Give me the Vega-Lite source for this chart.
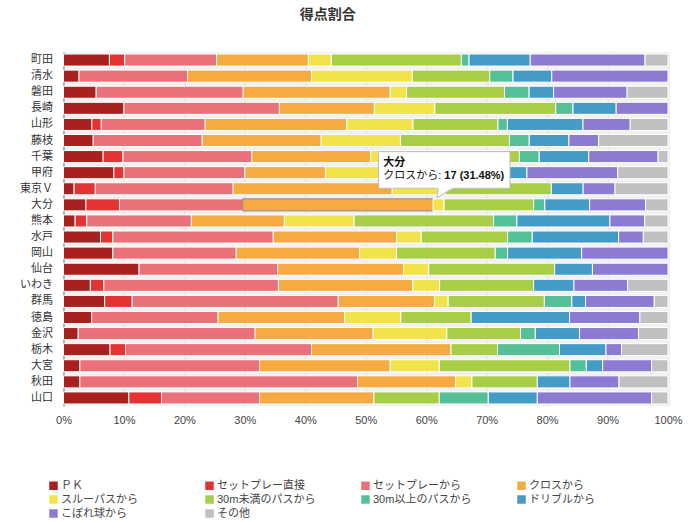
{
  "$schema": "https://vega.github.io/schema/vega-lite/v6.json",
  "width": 604.5,
  "height": 354,
  "autosize": {"type": "none"},
  "padding": {"left": 63.5, "top": 52, "right": 32, "bottom": 116},
  "title": {"text": "得点割合", "fontSize": 14, "fontWeight": "bold", "color": "#333", "anchor": "middle", "frame": "group", "dx": -38, "offset": 30},
  "config": {
    "font": "Liberation Sans, Noto Sans CJK JP",
    "view": {"fill": "#f1f1f1", "stroke": null}
  },
  "datasets": {
    "categories": [
      {"category": "ＰＫ", "rank": 1},
      {"category": "セットプレー直接", "rank": 2},
      {"category": "セットプレーから", "rank": 3},
      {"category": "クロスから", "rank": 4},
      {"category": "スルーパスから", "rank": 5},
      {"category": "30m未満のパスから", "rank": 6},
      {"category": "30m以上のパスから", "rank": 7},
      {"category": "ドリブルから", "rank": 8},
      {"category": "こぼれ球から", "rank": 9},
      {"category": "その他", "rank": 10}
    ],
    "goals": [
      {"team": "町田", "category": "ＰＫ", "goals": 6},
      {"team": "町田", "category": "セットプレー直接", "goals": 2},
      {"team": "町田", "category": "セットプレーから", "goals": 12},
      {"team": "町田", "category": "クロスから", "goals": 12},
      {"team": "町田", "category": "スルーパスから", "goals": 3},
      {"team": "町田", "category": "30m未満のパスから", "goals": 17},
      {"team": "町田", "category": "30m以上のパスから", "goals": 1},
      {"team": "町田", "category": "ドリブルから", "goals": 8},
      {"team": "町田", "category": "こぼれ球から", "goals": 15},
      {"team": "町田", "category": "その他", "goals": 3},
      {"team": "清水", "category": "ＰＫ", "goals": 2},
      {"team": "清水", "category": "セットプレーから", "goals": 14},
      {"team": "清水", "category": "クロスから", "goals": 16},
      {"team": "清水", "category": "スルーパスから", "goals": 13},
      {"team": "清水", "category": "30m未満のパスから", "goals": 10},
      {"team": "清水", "category": "30m以上のパスから", "goals": 3},
      {"team": "清水", "category": "ドリブルから", "goals": 5},
      {"team": "清水", "category": "こぼれ球から", "goals": 15},
      {"team": "磐田", "category": "ＰＫ", "goals": 4},
      {"team": "磐田", "category": "セットプレーから", "goals": 18},
      {"team": "磐田", "category": "クロスから", "goals": 18},
      {"team": "磐田", "category": "スルーパスから", "goals": 2},
      {"team": "磐田", "category": "30m未満のパスから", "goals": 12},
      {"team": "磐田", "category": "30m以上のパスから", "goals": 3},
      {"team": "磐田", "category": "ドリブルから", "goals": 3},
      {"team": "磐田", "category": "こぼれ球から", "goals": 9},
      {"team": "磐田", "category": "その他", "goals": 5},
      {"team": "長崎", "category": "ＰＫ", "goals": 7},
      {"team": "長崎", "category": "セットプレーから", "goals": 18},
      {"team": "長崎", "category": "クロスから", "goals": 11},
      {"team": "長崎", "category": "スルーパスから", "goals": 7},
      {"team": "長崎", "category": "30m未満のパスから", "goals": 14},
      {"team": "長崎", "category": "30m以上のパスから", "goals": 2},
      {"team": "長崎", "category": "ドリブルから", "goals": 5},
      {"team": "長崎", "category": "こぼれ球から", "goals": 6},
      {"team": "山形", "category": "ＰＫ", "goals": 3},
      {"team": "山形", "category": "セットプレー直接", "goals": 1},
      {"team": "山形", "category": "セットプレーから", "goals": 11},
      {"team": "山形", "category": "クロスから", "goals": 15},
      {"team": "山形", "category": "スルーパスから", "goals": 7},
      {"team": "山形", "category": "30m未満のパスから", "goals": 9},
      {"team": "山形", "category": "30m以上のパスから", "goals": 1},
      {"team": "山形", "category": "ドリブルから", "goals": 8},
      {"team": "山形", "category": "こぼれ球から", "goals": 5},
      {"team": "山形", "category": "その他", "goals": 4},
      {"team": "藤枝", "category": "ＰＫ", "goals": 3},
      {"team": "藤枝", "category": "セットプレーから", "goals": 11},
      {"team": "藤枝", "category": "クロスから", "goals": 12},
      {"team": "藤枝", "category": "スルーパスから", "goals": 8},
      {"team": "藤枝", "category": "30m未満のパスから", "goals": 11},
      {"team": "藤枝", "category": "30m以上のパスから", "goals": 2},
      {"team": "藤枝", "category": "ドリブルから", "goals": 4},
      {"team": "藤枝", "category": "こぼれ球から", "goals": 3},
      {"team": "藤枝", "category": "その他", "goals": 7},
      {"team": "千葉", "category": "ＰＫ", "goals": 4},
      {"team": "千葉", "category": "セットプレー直接", "goals": 2},
      {"team": "千葉", "category": "セットプレーから", "goals": 13},
      {"team": "千葉", "category": "クロスから", "goals": 12},
      {"team": "千葉", "category": "スルーパスから", "goals": 4},
      {"team": "千葉", "category": "30m未満のパスから", "goals": 11},
      {"team": "千葉", "category": "30m以上のパスから", "goals": 2},
      {"team": "千葉", "category": "ドリブルから", "goals": 5},
      {"team": "千葉", "category": "こぼれ球から", "goals": 7},
      {"team": "千葉", "category": "その他", "goals": 1},
      {"team": "甲府", "category": "ＰＫ", "goals": 5},
      {"team": "甲府", "category": "セットプレー直接", "goals": 1},
      {"team": "甲府", "category": "セットプレーから", "goals": 12},
      {"team": "甲府", "category": "クロスから", "goals": 8},
      {"team": "甲府", "category": "スルーパスから", "goals": 6},
      {"team": "甲府", "category": "30m未満のパスから", "goals": 9},
      {"team": "甲府", "category": "30m以上のパスから", "goals": 1},
      {"team": "甲府", "category": "ドリブルから", "goals": 4},
      {"team": "甲府", "category": "こぼれ球から", "goals": 9},
      {"team": "甲府", "category": "その他", "goals": 5},
      {"team": "東京Ｖ", "category": "ＰＫ", "goals": 1},
      {"team": "東京Ｖ", "category": "セットプレー直接", "goals": 2},
      {"team": "東京Ｖ", "category": "セットプレーから", "goals": 13},
      {"team": "東京Ｖ", "category": "クロスから", "goals": 15},
      {"team": "東京Ｖ", "category": "スルーパスから", "goals": 5},
      {"team": "東京Ｖ", "category": "30m未満のパスから", "goals": 10},
      {"team": "東京Ｖ", "category": "ドリブルから", "goals": 3},
      {"team": "東京Ｖ", "category": "こぼれ球から", "goals": 3},
      {"team": "東京Ｖ", "category": "その他", "goals": 5},
      {"team": "大分", "category": "ＰＫ", "goals": 2},
      {"team": "大分", "category": "セットプレー直接", "goals": 3},
      {"team": "大分", "category": "セットプレーから", "goals": 11},
      {"team": "大分", "category": "クロスから", "goals": 17},
      {"team": "大分", "category": "スルーパスから", "goals": 1},
      {"team": "大分", "category": "30m未満のパスから", "goals": 8},
      {"team": "大分", "category": "30m以上のパスから", "goals": 1},
      {"team": "大分", "category": "ドリブルから", "goals": 4},
      {"team": "大分", "category": "こぼれ球から", "goals": 5},
      {"team": "大分", "category": "その他", "goals": 2},
      {"team": "熊本", "category": "ＰＫ", "goals": 1},
      {"team": "熊本", "category": "セットプレー直接", "goals": 1},
      {"team": "熊本", "category": "セットプレーから", "goals": 9},
      {"team": "熊本", "category": "クロスから", "goals": 8},
      {"team": "熊本", "category": "スルーパスから", "goals": 6},
      {"team": "熊本", "category": "30m未満のパスから", "goals": 12},
      {"team": "熊本", "category": "30m以上のパスから", "goals": 2},
      {"team": "熊本", "category": "ドリブルから", "goals": 8},
      {"team": "熊本", "category": "こぼれ球から", "goals": 3},
      {"team": "熊本", "category": "その他", "goals": 2},
      {"team": "水戸", "category": "ＰＫ", "goals": 3},
      {"team": "水戸", "category": "セットプレー直接", "goals": 1},
      {"team": "水戸", "category": "セットプレーから", "goals": 13},
      {"team": "水戸", "category": "クロスから", "goals": 10},
      {"team": "水戸", "category": "スルーパスから", "goals": 2},
      {"team": "水戸", "category": "30m未満のパスから", "goals": 7},
      {"team": "水戸", "category": "30m以上のパスから", "goals": 2},
      {"team": "水戸", "category": "ドリブルから", "goals": 7},
      {"team": "水戸", "category": "こぼれ球から", "goals": 2},
      {"team": "水戸", "category": "その他", "goals": 2},
      {"team": "岡山", "category": "ＰＫ", "goals": 4},
      {"team": "岡山", "category": "セットプレーから", "goals": 10},
      {"team": "岡山", "category": "クロスから", "goals": 10},
      {"team": "岡山", "category": "スルーパスから", "goals": 3},
      {"team": "岡山", "category": "30m未満のパスから", "goals": 8},
      {"team": "岡山", "category": "30m以上のパスから", "goals": 1},
      {"team": "岡山", "category": "ドリブルから", "goals": 6},
      {"team": "岡山", "category": "こぼれ球から", "goals": 7},
      {"team": "仙台", "category": "ＰＫ", "goals": 6},
      {"team": "仙台", "category": "セットプレーから", "goals": 11},
      {"team": "仙台", "category": "クロスから", "goals": 10},
      {"team": "仙台", "category": "スルーパスから", "goals": 2},
      {"team": "仙台", "category": "30m未満のパスから", "goals": 10},
      {"team": "仙台", "category": "ドリブルから", "goals": 3},
      {"team": "仙台", "category": "こぼれ球から", "goals": 6},
      {"team": "いわき", "category": "ＰＫ", "goals": 2},
      {"team": "いわき", "category": "セットプレー直接", "goals": 1},
      {"team": "いわき", "category": "セットプレーから", "goals": 13},
      {"team": "いわき", "category": "クロスから", "goals": 10},
      {"team": "いわき", "category": "スルーパスから", "goals": 2},
      {"team": "いわき", "category": "30m未満のパスから", "goals": 7},
      {"team": "いわき", "category": "ドリブルから", "goals": 3},
      {"team": "いわき", "category": "こぼれ球から", "goals": 4},
      {"team": "いわき", "category": "その他", "goals": 3},
      {"team": "群馬", "category": "ＰＫ", "goals": 3},
      {"team": "群馬", "category": "セットプレー直接", "goals": 2},
      {"team": "群馬", "category": "セットプレーから", "goals": 15},
      {"team": "群馬", "category": "クロスから", "goals": 7},
      {"team": "群馬", "category": "スルーパスから", "goals": 1},
      {"team": "群馬", "category": "30m未満のパスから", "goals": 7},
      {"team": "群馬", "category": "30m以上のパスから", "goals": 2},
      {"team": "群馬", "category": "ドリブルから", "goals": 1},
      {"team": "群馬", "category": "こぼれ球から", "goals": 5},
      {"team": "群馬", "category": "その他", "goals": 1},
      {"team": "徳島", "category": "ＰＫ", "goals": 2},
      {"team": "徳島", "category": "セットプレーから", "goals": 9},
      {"team": "徳島", "category": "クロスから", "goals": 9},
      {"team": "徳島", "category": "スルーパスから", "goals": 4},
      {"team": "徳島", "category": "30m未満のパスから", "goals": 5},
      {"team": "徳島", "category": "ドリブルから", "goals": 7},
      {"team": "徳島", "category": "こぼれ球から", "goals": 5},
      {"team": "徳島", "category": "その他", "goals": 2},
      {"team": "金沢", "category": "ＰＫ", "goals": 1},
      {"team": "金沢", "category": "セットプレーから", "goals": 12},
      {"team": "金沢", "category": "クロスから", "goals": 8},
      {"team": "金沢", "category": "スルーパスから", "goals": 5},
      {"team": "金沢", "category": "30m未満のパスから", "goals": 5},
      {"team": "金沢", "category": "30m以上のパスから", "goals": 1},
      {"team": "金沢", "category": "ドリブルから", "goals": 3},
      {"team": "金沢", "category": "こぼれ球から", "goals": 4},
      {"team": "金沢", "category": "その他", "goals": 2},
      {"team": "栃木", "category": "ＰＫ", "goals": 3},
      {"team": "栃木", "category": "セットプレー直接", "goals": 1},
      {"team": "栃木", "category": "セットプレーから", "goals": 12},
      {"team": "栃木", "category": "クロスから", "goals": 9},
      {"team": "栃木", "category": "30m未満のパスから", "goals": 3},
      {"team": "栃木", "category": "30m以上のパスから", "goals": 4},
      {"team": "栃木", "category": "ドリブルから", "goals": 3},
      {"team": "栃木", "category": "こぼれ球から", "goals": 1},
      {"team": "栃木", "category": "その他", "goals": 3},
      {"team": "大宮", "category": "ＰＫ", "goals": 1},
      {"team": "大宮", "category": "セットプレーから", "goals": 11},
      {"team": "大宮", "category": "クロスから", "goals": 8},
      {"team": "大宮", "category": "スルーパスから", "goals": 3},
      {"team": "大宮", "category": "30m未満のパスから", "goals": 8},
      {"team": "大宮", "category": "30m以上のパスから", "goals": 1},
      {"team": "大宮", "category": "ドリブルから", "goals": 1},
      {"team": "大宮", "category": "こぼれ球から", "goals": 3},
      {"team": "大宮", "category": "その他", "goals": 1},
      {"team": "秋田", "category": "ＰＫ", "goals": 1},
      {"team": "秋田", "category": "セットプレーから", "goals": 17},
      {"team": "秋田", "category": "クロスから", "goals": 6},
      {"team": "秋田", "category": "スルーパスから", "goals": 1},
      {"team": "秋田", "category": "30m未満のパスから", "goals": 4},
      {"team": "秋田", "category": "ドリブルから", "goals": 2},
      {"team": "秋田", "category": "こぼれ球から", "goals": 3},
      {"team": "秋田", "category": "その他", "goals": 3},
      {"team": "山口", "category": "ＰＫ", "goals": 4},
      {"team": "山口", "category": "セットプレー直接", "goals": 2},
      {"team": "山口", "category": "セットプレーから", "goals": 6},
      {"team": "山口", "category": "クロスから", "goals": 7},
      {"team": "山口", "category": "30m未満のパスから", "goals": 4},
      {"team": "山口", "category": "30m以上のパスから", "goals": 3},
      {"team": "山口", "category": "ドリブルから", "goals": 3},
      {"team": "山口", "category": "こぼれ球から", "goals": 7},
      {"team": "山口", "category": "その他", "goals": 1}
    ],
    "tip": [
      {"team": "大分", "label": "クロスから:", "value": "17 (31.48%)"}
    ]
  },
  "layer": [
    {
      "data": {"name": "goals"},
      "transform": [
        {"lookup": "category", "from": {"data": {"name": "categories"}, "key": "category", "fields": ["rank"]}}
      ],
      "mark": {"type": "bar", "strokeWidth": 1},
      "encoding": {
        "y": {
          "field": "team",
          "type": "nominal",
          "scale": {
            "domain": ["町田", "清水", "磐田", "長崎", "山形", "藤枝", "千葉", "甲府", "東京Ｖ", "大分", "熊本", "水戸", "岡山", "仙台", "いわき", "群馬", "徳島", "金沢", "栃木", "大宮", "秋田", "山口"],
            "paddingInner": 0.25,
            "paddingOuter": 0.125
          },
          "axis": {"title": null, "ticks": false, "domainColor": "#777", "labelFontSize": 11, "labelColor": "#333", "labelPadding": 11}
        },
        "x": {
          "field": "goals",
          "type": "quantitative",
          "stack": "normalize",
          "axis": {"title": null, "values": [0, 0.1, 0.2, 0.3, 0.4, 0.5, 0.6, 0.7, 0.8, 0.9, 1], "format": ".0%", "domain": false, "ticks": false, "labelFlush": false, "labelPadding": 8, "labelFontSize": 11, "labelColor": "#444", "gridColor": "#dcdcdc"}
        },
        "order": {"field": "rank", "type": "quantitative", "sort": "ascending"},
        "color": {
          "field": "category",
          "type": "nominal",
          "sort": ["ＰＫ", "セットプレー直接", "セットプレーから", "クロスから", "スルーパスから", "30m未満のパスから", "30m以上のパスから", "ドリブルから", "こぼれ球から", "その他"],
          "scale": {
            "domain": ["ＰＫ", "セットプレー直接", "セットプレーから", "クロスから", "スルーパスから", "30m未満のパスから", "30m以上のパスから", "ドリブルから", "こぼれ球から", "その他"],
            "range": ["#a8211f", "#e53233", "#ea717a", "#f5ab41", "#f3e34a", "#a8cd47", "#55c097", "#449bc5", "#8d7ad3", "#c0c0c0"]
          },
          "legend": {"title": null, "orient": "none", "legendX": -15.5, "legendY": 428, "direction": "horizontal", "columns": 4, "gridAlign": "all", "columnPadding": 44, "rowPadding": 2, "symbolType": "square", "symbolSize": 72, "symbolStrokeWidth": 0, "labelFontSize": 11, "labelColor": "#444", "labelOffset": 2}
        },
        "stroke": {
          "condition": {"test": "datum.team === '大分' && datum.category === 'クロスから'", "value": "#8c8c8c"},
          "value": "#ffffff"
        }
      }
    },
    {
      "data": {"name": "tip"},
      "mark": {"type": "point", "shape": "M-66.5,-53.2L65,-53.2L65,-16.6L8,-16.6L-8,-7.4L-7,-16.6L-66.5,-16.6Z", "size": 4, "filled": true, "fill": "#ffffff", "stroke": "#bdbdbd", "strokeWidth": 1, "opacity": 1},
      "encoding": {
        "x": {"datum": 0.6311, "type": "quantitative"},
        "y": {"field": "team", "type": "nominal"}
      }
    },
    {
      "data": {"name": "tip"},
      "mark": {"type": "text", "align": "left", "baseline": "middle", "fontSize": 11, "fontWeight": "bold", "color": "#111", "dy": -42.3},
      "encoding": {
        "x": {"datum": 0.529, "type": "quantitative"},
        "y": {"field": "team", "type": "nominal"},
        "text": {"field": "team"}
      }
    },
    {
      "data": {"name": "tip"},
      "mark": {"type": "text", "align": "left", "baseline": "middle", "fontSize": 11, "color": "#111", "dy": -29},
      "encoding": {
        "x": {"datum": 0.529, "type": "quantitative"},
        "y": {"field": "team", "type": "nominal"},
        "text": {"field": "label"}
      }
    },
    {
      "data": {"name": "tip"},
      "mark": {"type": "text", "align": "left", "baseline": "middle", "fontSize": 11, "fontWeight": "bold", "color": "#111", "dy": -29},
      "encoding": {
        "x": {"datum": 0.63, "type": "quantitative"},
        "y": {"field": "team", "type": "nominal"},
        "text": {"field": "value"}
      }
    }
  ]
}
